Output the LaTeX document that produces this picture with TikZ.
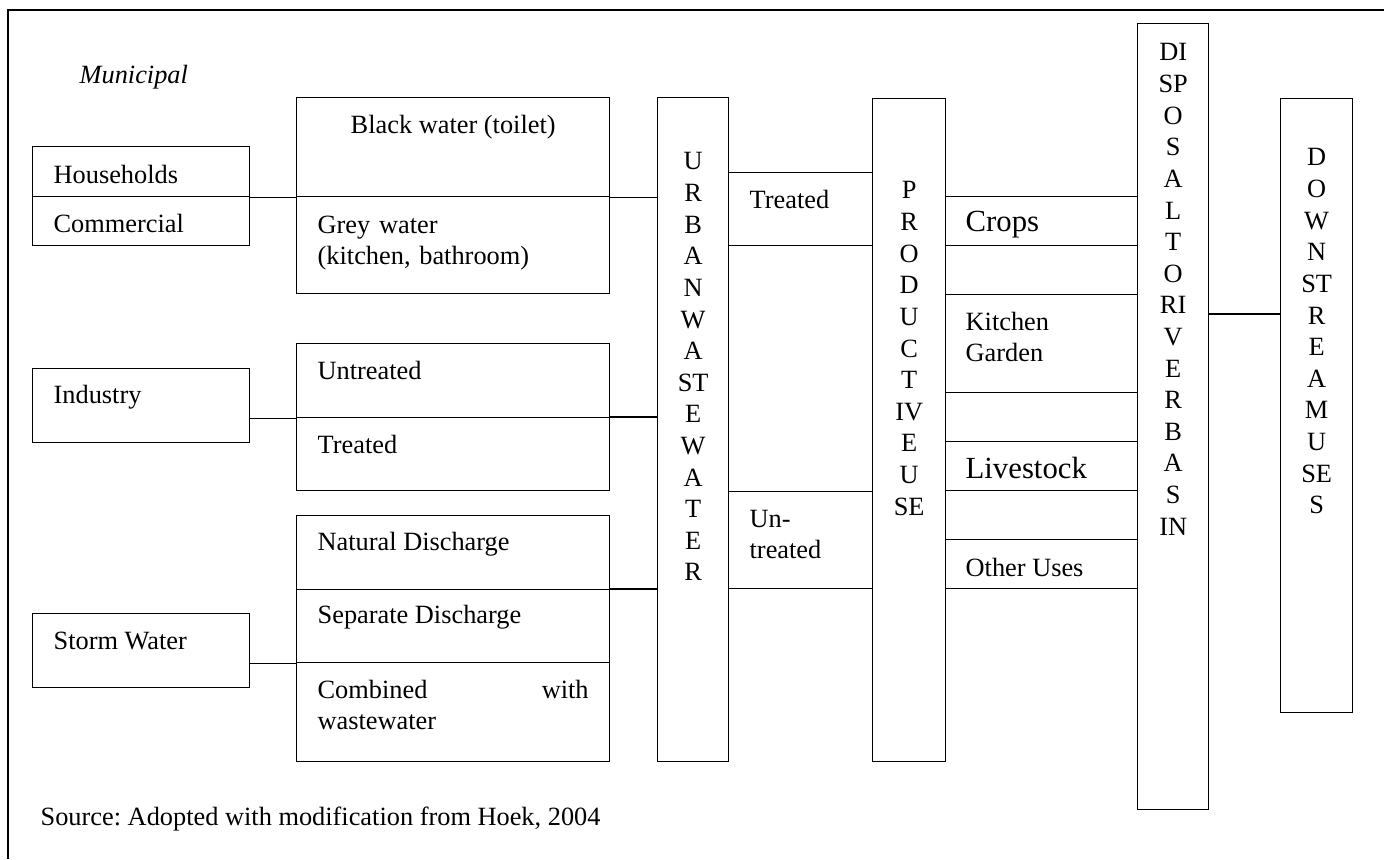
\documentclass[tikz,border=0pt]{standalone}
\usepackage{fontspec}
\setmainfont{Liberation Serif}
\usetikzlibrary{positioning,calc}
\frenchspacing

\begin{document}
\begin{tikzpicture}[x=0.016cm, y=-0.016cm, line width=0.6pt,
    box/.style 2 args={draw, rectangle, inner sep=0pt, anchor=north west,
        minimum width=#1*0.016cm, minimum height=#2*0.016cm},
    txt/.style={inner sep=0pt, anchor=base west, font=\fontsize{12}{14.4}\selectfont},
    bigtxt/.style={txt, font=\fontsize{14}{16.8}\selectfont},
    vtxt/.style={inner sep=0pt, anchor=north, align=center, font=\fontsize{12}{14.4}\selectfont}]
    \useasboundingbox (0,0) rectangle (1387,859);

    % Frame
    \draw [line width=0.9pt] (8,859) -- (8,10) -- (1384,10);
    \node [txt, font=\fontsize{12}{14.4}\selectfont\itshape] (mun) at (79,83) {Municipal};

    % Sources
    \node [box={217}{50}] (hh) at (32,146) {};
    \node [box={217}{49}] (com) at (32,196) {};
    \node [box={217}{74}] (ind) at (32,368) {};
    \node [box={217}{74}] (storm) at (32,613) {};
    \node [txt] (hhtxt) at ([shift={(21,37)}]hh.north west) {Households};
    \node [txt] (comtxt) at ([shift={(21,36)}]com.north west) {Commercial};
    \node [txt] (indtxt) at ([shift={(21,35)}]ind.north west) {Industry};
    \node [txt] (stormtxt) at ([shift={(21,36)}]storm.north west) {Storm Water};

    % Wastewater types
    \node [box={313}{99}] (black) at (296,97) {};
    \node [box={313}{97}] (grey) at (296,196) {};
    \node [box={313}{74}] (untr) at (296,343) {};
    \node [box={313}{73}] (indtr) at (296,417) {};
    \node [box={313}{74}] (nat) at (296,515) {};
    \node [box={313}{73}] (sep) at (296,589) {};
    \node [box={313}{99}] (comb) at (296,662) {};
    \node [txt, anchor=base] (blacktxt) at ([shift={(0,36)}]black.north) {Black water (toilet)};
    \node [txt, text width=271*0.016cm] (greytxt) at ([shift={(21,37)}]grey.north west) {Grey water\\(kitchen, bathroom)};
    \node [txt] (untrtxt) at ([shift={(21,36)}]untr.north west) {Untreated};
    \node [txt] (indtrtxt) at ([shift={(21,36)}]indtr.north west) {Treated};
    \node [txt] (nattxt) at ([shift={(21,35)}]nat.north west) {Natural Discharge};
    \node [txt] (septxt) at ([shift={(21,34)}]sep.north west) {Separate Discharge};
    \node [txt, text width=271*0.016cm] (combtxt) at ([shift={(21,36)}]comb.north west) {Combined\hfill with\\wastewater};

    % Urban wastewater
    \node [box={71}{664}] (urban) at (657,97) {};
    \node [vtxt] (urbantxt) at ([shift={(0,55)}]urban.north) {U\\R\\B\\A\\N\\W\\A\\ST\\E\\W\\A\\T\\E\\R};
    \node [box={144}{73}] (wtr) at (728,172) {};
    \node [box={144}{97}] (wun) at (728,491) {};
    \node [txt] (wtrtxt) at ([shift={(21,36)}]wtr.north west) {Treated};
    \node [txt, text width=120*0.016cm] (wuntxt) at ([shift={(21,36)}]wun.north west) {Un-\\treated};

    % Productive use
    \node [box={73}{663}] (prod) at (872,98) {};
    \node [vtxt] (prodtxt) at ([shift={(0,83)}]prod.north) {P\\R\\O\\D\\U\\C\\T\\IV\\E\\U\\SE};
    \node [box={192}{49}] (crops) at (945,196) {};
    \node [box={192}{49}] (gap1) at (945,245) {};
    \node [box={192}{98}] (kg) at (945,294) {};
    \node [box={192}{49}] (gap2) at (945,392) {};
    \node [box={192}{49}] (live) at (945,441) {};
    \node [box={192}{49}] (gap3) at (945,490) {};
    \node [box={192}{49}] (other) at (945,539) {};
    \node [bigtxt] (cropstxt) at ([shift={(20,35)}]crops.north west) {Crops};
    \node [txt, text width=160*0.016cm] (kgtxt) at ([shift={(20,36)}]kg.north west) {Kitchen\\Garden};
    \node [bigtxt] (livetxt) at ([shift={(20,37)}]live.north west) {Livestock};
    \node [txt] (othertxt) at ([shift={(20,37)}]other.north west) {Other Uses};

    % Disposal and downstream
    \node [box={71}{786}] (disp) at (1137,23) {};
    \node [vtxt] (disptxt) at ([shift={(0,20)}]disp.north) {DI\\SP\\O\\S\\A\\L\\T\\O\\RI\\V\\E\\R\\B\\A\\S\\IN};
    \node [box={72}{614}] (down) at (1280,98) {};
    \node [vtxt] (downtxt) at ([shift={(0,50)}]down.north) {D\\O\\W\\N\\ST\\R\\E\\A\\M\\U\\SE\\S};

    % Connectors
    \draw (hh.south east) -- (black.south west);
    \draw (black.south east) -- (black.south east -| urban.west);
    \draw (untr.south west -| ind.east) -- (untr.south west);
    \draw (indtr.north east) -- (indtr.north east -| urban.west);
    \draw (sep.south west -| storm.east) -- (sep.south west);
    \draw (sep.north east) -- (sep.north east -| urban.west);
    \coordinate (dispout) at (1208,314);
    \draw (dispout) -- (dispout -| down.west);

    \node [txt] (src) at (40,825) {Source: Adopted with modification from Hoek, 2004};
\end{tikzpicture}
\end{document}
